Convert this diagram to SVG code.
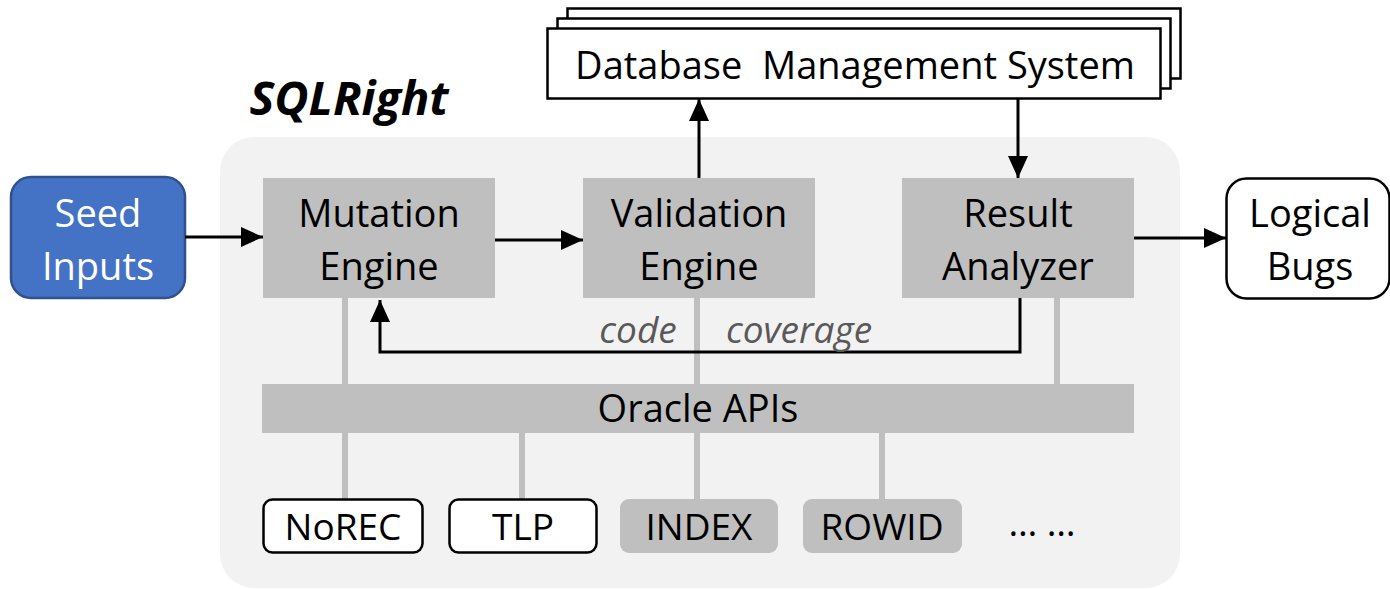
<svg xmlns="http://www.w3.org/2000/svg" width="1390" height="589" viewBox="0 0 1390 589">
<style>
text{font-family:"Open Sans","Liberation Sans",sans-serif;text-anchor:middle;fill:#000}
.t{font-size:38px}
.s{font-size:37px}
.gb{fill:#bfbfbf}
.wb{fill:#fff;stroke:#000;stroke-width:2.5}
.ln{stroke:#000;stroke-width:3;fill:none}
.gl{stroke:#bfbfbf;stroke-width:6}
.cc{font-size:37px;font-style:italic;fill:#595959}
</style>
<defs>
<marker id="a" viewBox="0 0 22 20" refX="22" refY="10" markerWidth="22" markerHeight="20" markerUnits="userSpaceOnUse" orient="auto">
<path d="M0,0 L22,10 L0,20 z" fill="#000"/>
</marker>
</defs>
<rect x="220" y="137" width="960" height="451" rx="34" fill="#f2f2f2"/>
<text x="349" y="115" style="font-size:47px;font-weight:bold;font-style:italic">SQLRight</text>
<g id="dbms">
<rect x="567.5" y="8.5" width="613" height="70" class="wb"/>
<rect x="557.5" y="18.5" width="613" height="70" class="wb"/>
<rect x="547.5" y="28.5" width="613" height="70" class="wb"/>
<text x="855" y="79" class="t" xml:space="preserve">Database  Management System</text>
</g>
<g id="seed">
<rect x="11" y="177" width="174" height="121" rx="20" fill="#4472c4" stroke="#2f528f" stroke-width="2.5"/>
<text x="98" y="227" class="t" style="fill:#fff">Seed</text>
<text x="98" y="280" class="t" style="fill:#fff">Inputs</text>
</g>
<g id="oracle-lines">
<line x1="345" y1="298" x2="345" y2="500" class="gl"/>
<line x1="697" y1="298" x2="697" y2="500" class="gl"/>
<line x1="1057" y1="298" x2="1057" y2="386" class="gl"/>
<line x1="522" y1="432" x2="522" y2="500" class="gl"/>
<line x1="882" y1="432" x2="882" y2="500" class="gl"/>
</g>
<g id="mutation">
<rect x="263" y="178" width="232" height="120" class="gb"/>
<text x="379" y="227" class="t">Mutation</text>
<text x="379" y="280" class="t">Engine</text>
</g>
<g id="validation">
<rect x="583" y="178" width="232" height="120" class="gb"/>
<text x="699" y="227" class="t">Validation</text>
<text x="699" y="280" class="t">Engine</text>
</g>
<g id="result">
<rect x="902" y="178" width="232" height="120" class="gb"/>
<text x="1018" y="227" class="t">Result</text>
<text x="1018" y="280" class="t">Analyzer</text>
</g>
<g id="bugs">
<rect x="1226.5" y="178.5" width="163" height="120" rx="20" class="wb"/>
<text x="1310" y="227" class="t">Logical</text>
<text x="1310" y="280" class="t">Bugs</text>
</g>
<g id="oracle">
<rect x="262" y="384" width="872" height="49" class="gb"/>
<text x="698" y="422" class="t">Oracle APIs</text>
</g>
<g id="norec">
<rect x="263.5" y="499.5" width="159" height="53" rx="9" class="wb"/>
<text x="343" y="540" class="s">NoREC</text>
</g>
<g id="tlp">
<rect x="449.5" y="499.5" width="147" height="53" rx="9" class="wb"/>
<text x="523" y="540" class="s">TLP</text>
</g>
<g id="index">
<rect x="620" y="499" width="158" height="54" rx="9" class="gb"/>
<text x="699" y="540" class="s">INDEX</text>
</g>
<g id="rowid">
<rect x="803" y="499" width="159" height="54" rx="9" class="gb"/>
<text x="882" y="540" class="s">ROWID</text>
</g>
<text x="1042" y="536" class="s">… …</text>
<g id="connectors">
<line x1="185" y1="237" x2="263" y2="237" class="ln" marker-end="url(#a)"/>
<line x1="495" y1="240" x2="583" y2="240" class="ln" marker-end="url(#a)"/>
<line x1="1134" y1="238" x2="1226" y2="238" class="ln" marker-end="url(#a)"/>
<line x1="699" y1="178" x2="699" y2="99" class="ln" marker-end="url(#a)"/>
<line x1="1018" y1="99" x2="1018" y2="178" class="ln" marker-end="url(#a)"/>
<polyline points="1020,298 1020,352 380,352 380,300" class="ln" marker-end="url(#a)"/>
<text x="638" y="343" class="cc">code</text>
<text x="799" y="343" class="cc">coverage</text>
</g>
</svg>
